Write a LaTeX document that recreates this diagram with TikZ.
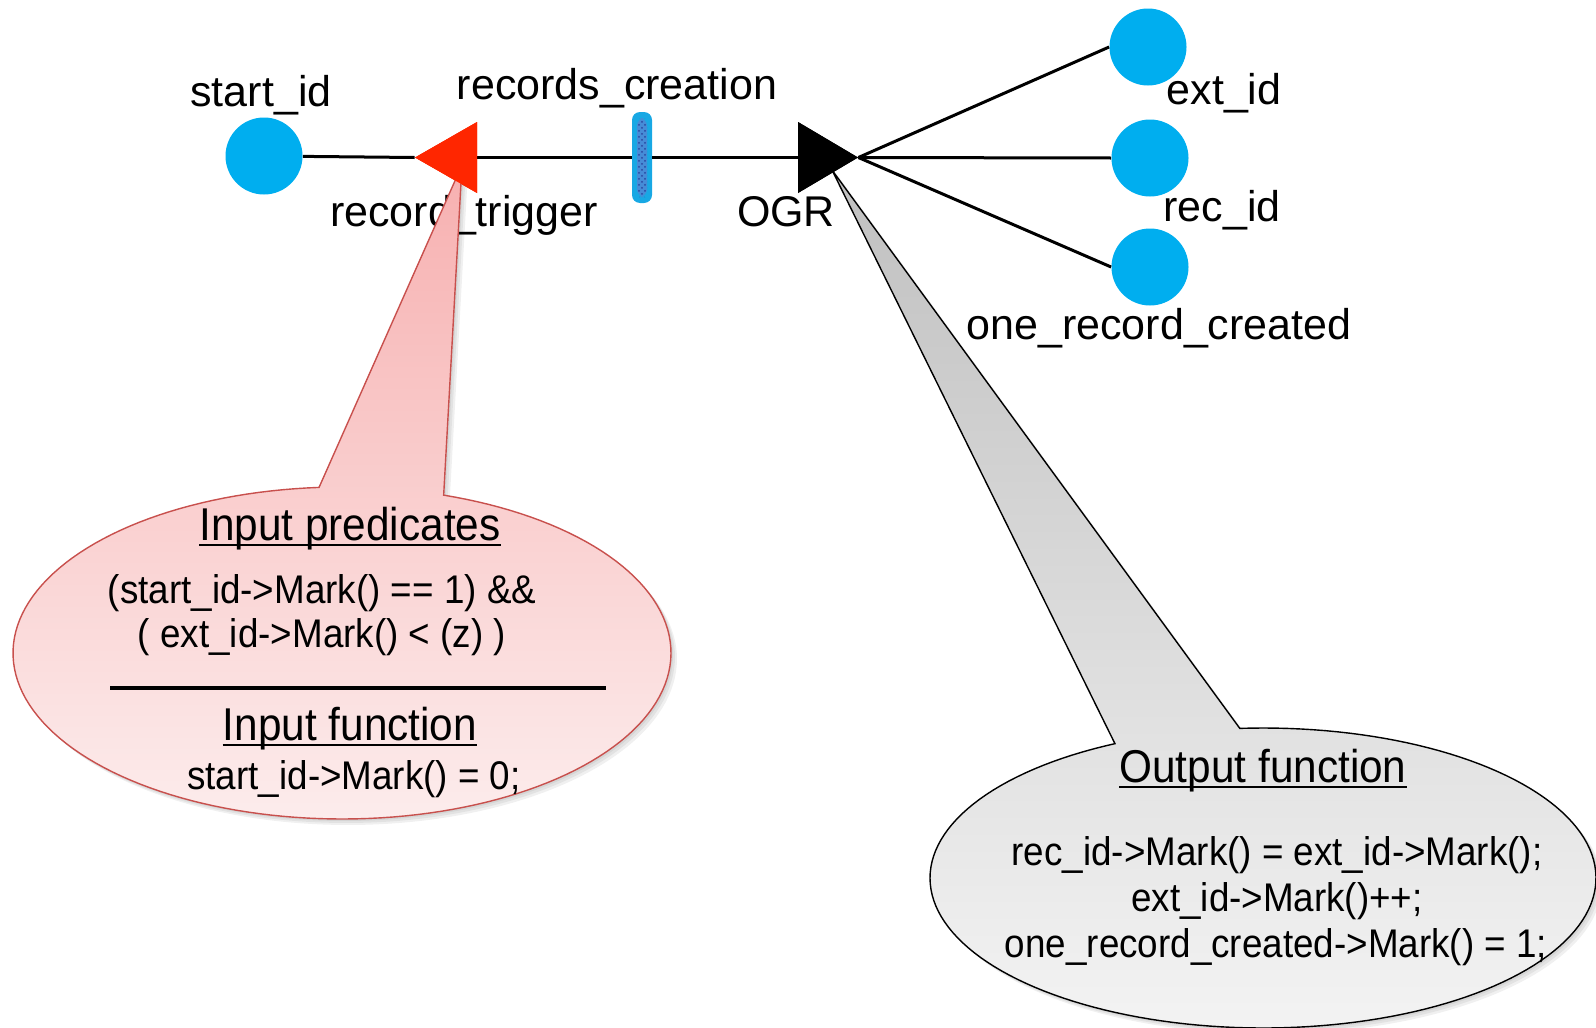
\documentclass[tikz,border=0pt]{standalone}
\usepackage{fontspec}
\setmainfont{Liberation Sans}
\newfontfamily\calloutfont[FakeStretch=0.92]{Liberation Sans}
\usetikzlibrary{patterns}

\definecolor{placeblue}{RGB}{0,174,239}
\definecolor{trigred}{RGB}{255,38,0}
\definecolor{barblue}{RGB}{24,168,228}
\definecolor{barinner}{RGB}{70,140,215}
\definecolor{bardots}{RGB}{40,70,160}
\definecolor{pinktop}{RGB}{247,176,176}
\definecolor{pinkbot}{RGB}{252,236,236}
\definecolor{pinkedge}{RGB}{200,80,77}
\definecolor{greytop}{RGB}{192,192,192}
\definecolor{greybot}{RGB}{243,243,243}

% callout outlines: ellipse with a wedge pointing at a transition
\newcommand\inputcallout{(462,165) -- plot[domain=-266:72, samples=160] ({342+329*cos(\x)}, {653-166*sin(\x)}) -- cycle}
\newcommand\outputcallout{(832,170) -- plot[domain=116.4:454, samples=160] ({1263+333*cos(\x)}, {878-150*sin(\x)}) -- cycle}

\begin{document}
\begin{tikzpicture}[x=0.5pt, y=-0.5pt,
  place/.style={circle, fill=placeblue, minimum size=38.5pt, inner sep=0pt},
  trans/.style={minimum width=31pt, minimum height=35.5pt, inner sep=0pt},
  lefttri/.style={trans, path picture={\fill[#1] (path picture bounding box.west) -- (path picture bounding box.north east) -- (path picture bounding box.south east) -- cycle;}},
  righttri/.style={trans, minimum width=30pt, path picture={\fill[#1] (path picture bounding box.east) -- (path picture bounding box.north west) -- (path picture bounding box.south west) -- cycle;}},
  timedbar/.style={rounded corners=4pt, fill=barblue, minimum width=10pt, minimum height=45.5pt, inner sep=0pt,
    path picture={
      \fill[barinner] ([xshift=2.5pt,yshift=-3pt]path picture bounding box.north west) rectangle ([xshift=-2.5pt,yshift=3pt]path picture bounding box.south east);
      \fill[pattern=crosshatch dots, pattern color=bardots] ([xshift=2.5pt,yshift=-3pt]path picture bounding box.north west) rectangle ([xshift=-2.5pt,yshift=3pt]path picture bounding box.south east);}},
  conn/.style={line width=1.5pt},
  lbl/.style={anchor=base, inner sep=0pt, font=\fontsize{21.5pt}{25pt}\selectfont},
  head/.style={anchor=base, inner sep=0pt, font=\calloutfont\fontsize{23pt}{27pt}\selectfont},
  code/.style={anchor=base, inner sep=0pt, font=\calloutfont\fontsize{20pt}{24pt}\selectfont},
  uline/.style={line width=1pt},
]
\useasboundingbox (0,0) rectangle (1596,1028);

% places, transitions and the timed bar
\node[place] (start) at (264,156) {};
\node[place] (ext) at (1148,47) {};
\node[place] (rec) at (1150,158) {};
\node[place] (one) at (1150,267) {};
\node[timedbar] (bar) at (642,157.5) {};
\node[lefttri=trigred] (rt) at (446,157.5) {};
\node[righttri=black] (ogr) at (828,157.5) {};

% arcs
\draw[conn] (start) -- (rt.west);
\draw[conn] (rt.east) -- (bar.west);
\draw[conn] (bar.east) -- (ogr.west);
\draw[conn] (ogr.east) -- (ext.west);
\draw[conn] (ogr.east) -- (rec.west);
\draw[conn] (ogr.east) -- (one.west);

% labels
\node[lbl] (l-start) at (261,106) {start\_id};
\node[lbl] (l-rc) at (617,99) {records\_creation};
\node[lbl] (l-rt) at (464,226) {record\_trigger};
\node[lbl] (l-ogr) at (786,226) {OGR};
\node[lbl] (l-ext) at (1224,104) {ext\_id};
\node[lbl] (l-rec) at (1222,221) {rec\_id};
\node[lbl] (l-one) at (1159,339) {one\_record\_created};

% input callout
\foreach \s in {1,2,3}
  \fill[black, opacity=0.06, xshift=\s pt, yshift=-\s pt] \inputcallout;
\path[top color=pinktop, bottom color=pinkbot, draw=pinkedge, line width=0.7pt] \inputcallout;
\node[head] (ip) at (350,540) {Input predicates};
\draw[uline] ([yshift=-2.5pt]ip.base west) -- ([yshift=-2.5pt]ip.base east);
\node[code] (ip1) at (322,603) {(start\_id->Mark() == 1) \&\&};
\node[code] (ip2) at (322,647) {( ext\_id->Mark() < (z) )};
\coordinate (sepL) at (110,688);
\coordinate (sepR) at (606,688);
\draw[line width=2pt] (sepL) -- (sepR);
\node[head] (if) at (350,740) {Input function};
\draw[uline] ([yshift=-2.5pt]if.base west) -- ([yshift=-2.5pt]if.base east);
\node[code] (if1) at (354,789) {start\_id->Mark() = 0;};

% output callout
\foreach \s in {1,2,3}
  \fill[black, opacity=0.06, xshift=\s pt, yshift=-\s pt] \outputcallout;
\path[top color=greytop, bottom color=greybot, draw=black, line width=0.7pt] \outputcallout;
\node[head] (of) at (1263,782) {Output function};
\draw[uline] ([yshift=-2.5pt]of.base west) -- ([yshift=-2.5pt]of.base east);
\node[code] (of1) at (1277,865) {rec\_id->Mark() = ext\_id->Mark();};
\node[code] (of2) at (1277,911) {ext\_id->Mark()++;};
\node[code] (of3) at (1276,957) {one\_record\_created->Mark() = 1;};

% transitions drawn again on top of the callout wedges
\node[lefttri=trigred] at (rt) {};
\node[righttri=black] at (ogr) {};
\end{tikzpicture}
\end{document}
